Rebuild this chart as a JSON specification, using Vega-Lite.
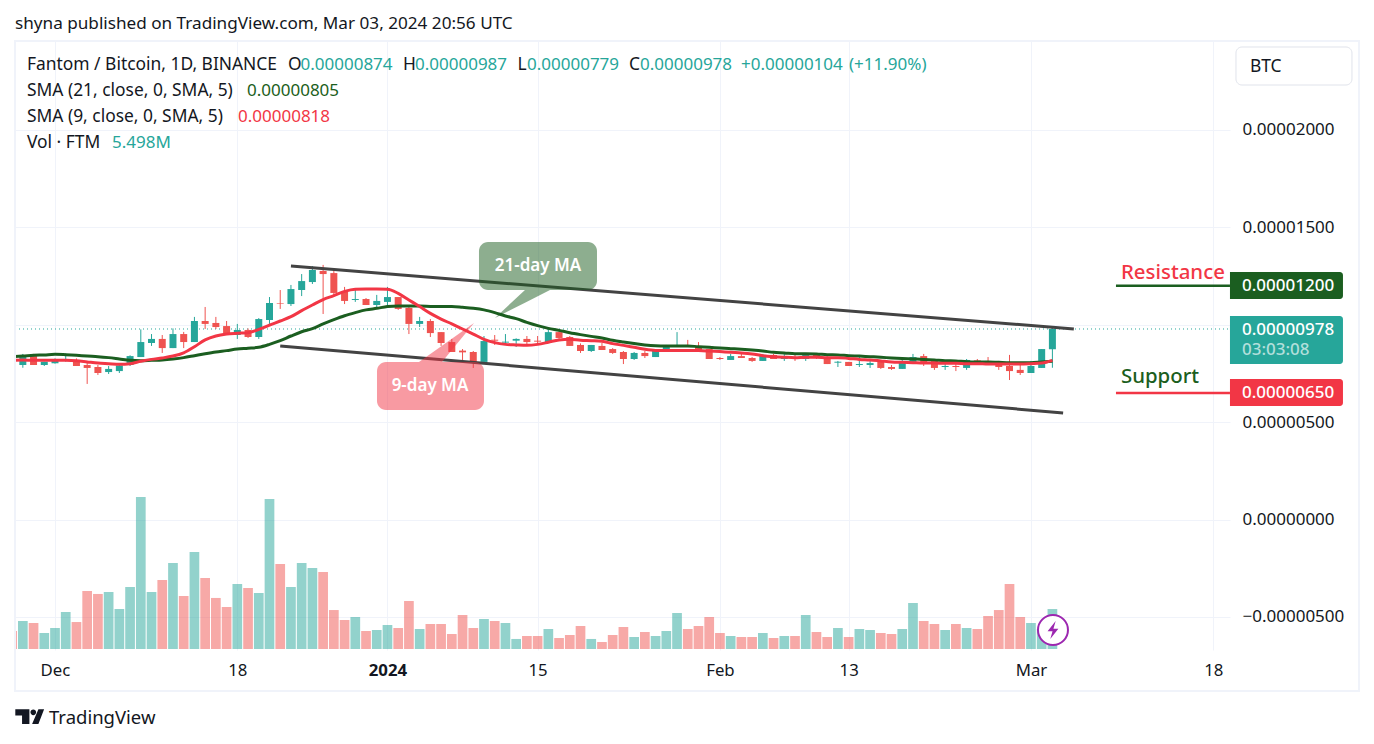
{"$schema":"https://vega.github.io/schema/vega-lite/v6.json","width":1215,"height":609,"autosize":{"type":"none"},"padding":{"left":15,"top":41,"right":144,"bottom":94},"background":"#ffffff",
"title":{"text":"shyna published on TradingView.com, Mar 03, 2024 20:56 UTC","anchor":"start","frame":"group","font":"Noto Sans","fontSize":17.15,"fontWeight":"normal","color":"#131722","offset":8},
"config":{"view":{"stroke":null},"text":{"font":"Noto Sans"}},
"datasets":{
"candles":[
{"date":"2023-11-27","open":827,"high":836,"low":785,"close":793,"vol":2.48,"ma21":836,"ma9":817,"kind":"down"},
{"date":"2023-11-28","open":793,"high":850,"low":779,"close":839,"vol":3.85,"ma21":839,"ma9":819,"kind":"up"},
{"date":"2023-11-29","open":839,"high":850,"low":793,"close":793,"vol":3.58,"ma21":843,"ma9":817,"kind":"down"},
{"date":"2023-11-30","open":793,"high":810,"low":788,"close":810,"vol":2.2,"ma21":845,"ma9":817,"kind":"up"},
{"date":"2023-12-01","open":802,"high":827,"low":800,"close":817,"vol":2.89,"ma21":848,"ma9":817,"kind":"up"},
{"date":"2023-12-02","open":821,"high":853,"low":810,"close":824,"vol":5.09,"ma21":846,"ma9":817,"kind":"up"},
{"date":"2023-12-03","open":819,"high":827,"low":788,"close":788,"vol":3.71,"ma21":843,"ma9":815,"kind":"down"},
{"date":"2023-12-04","open":793,"high":810,"low":696,"close":778,"vol":7.98,"ma21":839,"ma9":809,"kind":"down"},
{"date":"2023-12-05","open":783,"high":793,"low":742,"close":752,"vol":7.57,"ma21":836,"ma9":803,"kind":"down"},
{"date":"2023-12-06","open":757,"high":788,"low":747,"close":773,"vol":7.84,"ma21":831,"ma9":800,"kind":"up"},
{"date":"2023-12-07","open":762,"high":802,"low":752,"close":791,"vol":5.5,"ma21":824,"ma9":797,"kind":"up"},
{"date":"2023-12-08","open":793,"high":843,"low":788,"close":839,"vol":8.53,"ma21":817,"ma9":800,"kind":"up"},
{"date":"2023-12-09","open":834,"high":976,"low":834,"close":911,"vol":20.91,"ma21":815,"ma9":812,"kind":"up"},
{"date":"2023-12-10","open":906,"high":952,"low":891,"close":927,"vol":7.84,"ma21":817,"ma9":822,"kind":"up"},
{"date":"2023-12-11","open":927,"high":947,"low":855,"close":880,"vol":9.49,"ma21":819,"ma9":829,"kind":"down"},
{"date":"2023-12-12","open":880,"high":981,"low":880,"close":952,"vol":11.83,"ma21":824,"ma9":839,"kind":"up"},
{"date":"2023-12-13","open":952,"high":963,"low":880,"close":911,"vol":7.29,"ma21":831,"ma9":856,"kind":"down"},
{"date":"2023-12-14","open":911,"high":1040,"low":911,"close":1019,"vol":13.34,"ma21":841,"ma9":887,"kind":"up"},
{"date":"2023-12-15","open":1019,"high":1091,"low":978,"close":1004,"vol":9.77,"ma21":851,"ma9":922,"kind":"down"},
{"date":"2023-12-16","open":1009,"high":1040,"low":978,"close":988,"vol":7.02,"ma21":860,"ma9":942,"kind":"down"},
{"date":"2023-12-17","open":993,"high":1019,"low":947,"close":952,"vol":5.78,"ma21":867,"ma9":952,"kind":"down"},
{"date":"2023-12-18","open":947,"high":1004,"low":927,"close":973,"vol":8.94,"ma21":875,"ma9":956,"kind":"up"},
{"date":"2023-12-19","open":973,"high":981,"low":932,"close":937,"vol":8.39,"ma21":879,"ma9":959,"kind":"down"},
{"date":"2023-12-20","open":937,"high":1034,"low":927,"close":1029,"vol":7.7,"ma21":884,"ma9":976,"kind":"up"},
{"date":"2023-12-21","open":1024,"high":1142,"low":1004,"close":1111,"vol":20.63,"ma21":899,"ma9":998,"kind":"up"},
{"date":"2023-12-22","open":1111,"high":1178,"low":1081,"close":1108,"vol":11.69,"ma21":918,"ma9":1019,"kind":"down"},
{"date":"2023-12-23","open":1106,"high":1204,"low":1096,"close":1183,"vol":8.53,"ma21":942,"ma9":1041,"kind":"up"},
{"date":"2023-12-24","open":1178,"high":1260,"low":1147,"close":1224,"vol":11.83,"ma21":964,"ma9":1072,"kind":"up"},
{"date":"2023-12-25","open":1219,"high":1301,"low":1209,"close":1281,"vol":11.14,"ma21":980,"ma9":1101,"kind":"up"},
{"date":"2023-12-26","open":1276,"high":1307,"low":1055,"close":1260,"vol":10.59,"ma21":1004,"ma9":1129,"kind":"down"},
{"date":"2023-12-27","open":1265,"high":1281,"low":1153,"close":1163,"vol":5.36,"ma21":1026,"ma9":1149,"kind":"down"},
{"date":"2023-12-28","open":1168,"high":1194,"low":1106,"close":1122,"vol":3.99,"ma21":1046,"ma9":1171,"kind":"down"},
{"date":"2023-12-29","open":1127,"high":1188,"low":1117,"close":1132,"vol":4.4,"ma21":1062,"ma9":1182,"kind":"up"},
{"date":"2023-12-30","open":1132,"high":1137,"low":1101,"close":1101,"vol":2.48,"ma21":1076,"ma9":1183,"kind":"down"},
{"date":"2023-12-31","open":1101,"high":1153,"low":1086,"close":1122,"vol":2.61,"ma21":1084,"ma9":1183,"kind":"up"},
{"date":"2024-01-01","open":1117,"high":1194,"low":1101,"close":1142,"vol":3.3,"ma21":1093,"ma9":1182,"kind":"up"},
{"date":"2024-01-02","open":1142,"high":1142,"low":1076,"close":1081,"vol":2.89,"ma21":1096,"ma9":1161,"kind":"down"},
{"date":"2024-01-03","open":1086,"high":1101,"low":952,"close":1004,"vol":6.6,"ma21":1096,"ma9":1127,"kind":"down"},
{"date":"2024-01-04","open":1004,"high":1040,"low":988,"close":1019,"vol":2.75,"ma21":1096,"ma9":1093,"kind":"up"},
{"date":"2024-01-05","open":1019,"high":1029,"low":937,"close":957,"vol":3.44,"ma21":1094,"ma9":1058,"kind":"down"},
{"date":"2024-01-06","open":962,"high":962,"low":891,"close":906,"vol":3.44,"ma21":1093,"ma9":1029,"kind":"down"},
{"date":"2024-01-07","open":911,"high":927,"low":860,"close":860,"vol":2.06,"ma21":1093,"ma9":1004,"kind":"down"},
{"date":"2024-01-08","open":867,"high":875,"low":809,"close":858,"vol":4.68,"ma21":1089,"ma9":978,"kind":"down"},
{"date":"2024-01-09","open":860,"high":865,"low":778,"close":809,"vol":2.89,"ma21":1084,"ma9":952,"kind":"down"},
{"date":"2024-01-10","open":809,"high":942,"low":809,"close":916,"vol":4.13,"ma21":1076,"ma9":925,"kind":"up"},
{"date":"2024-01-11","open":923,"high":947,"low":896,"close":918,"vol":3.85,"ma21":1062,"ma9":908,"kind":"down"},
{"date":"2024-01-12","open":908,"high":952,"low":901,"close":913,"vol":3.58,"ma21":1045,"ma9":899,"kind":"up"},
{"date":"2024-01-13","open":918,"high":930,"low":886,"close":927,"vol":1.38,"ma21":1031,"ma9":896,"kind":"up"},
{"date":"2024-01-14","open":927,"high":942,"low":896,"close":911,"vol":1.79,"ma21":1012,"ma9":894,"kind":"down"},
{"date":"2024-01-15","open":918,"high":942,"low":906,"close":913,"vol":1.79,"ma21":995,"ma9":899,"kind":"down"},
{"date":"2024-01-16","open":906,"high":983,"low":906,"close":962,"vol":2.75,"ma21":981,"ma9":910,"kind":"up"},
{"date":"2024-01-17","open":962,"high":978,"low":927,"close":932,"vol":1.51,"ma21":971,"ma9":922,"kind":"down"},
{"date":"2024-01-18","open":937,"high":942,"low":891,"close":891,"vol":1.93,"ma21":959,"ma9":925,"kind":"down"},
{"date":"2024-01-19","open":896,"high":904,"low":855,"close":865,"vol":3.16,"ma21":949,"ma9":920,"kind":"down"},
{"date":"2024-01-20","open":865,"high":896,"low":860,"close":896,"vol":1.38,"ma21":940,"ma9":918,"kind":"up"},
{"date":"2024-01-21","open":891,"high":906,"low":870,"close":870,"vol":0.96,"ma21":932,"ma9":915,"kind":"down"},
{"date":"2024-01-22","open":875,"high":880,"low":850,"close":855,"vol":1.93,"ma21":920,"ma9":903,"kind":"down"},
{"date":"2024-01-23","open":860,"high":865,"low":798,"close":824,"vol":3.03,"ma21":911,"ma9":894,"kind":"down"},
{"date":"2024-01-24","open":824,"high":860,"low":819,"close":855,"vol":1.65,"ma21":903,"ma9":884,"kind":"up"},
{"date":"2024-01-25","open":855,"high":865,"low":829,"close":839,"vol":2.34,"ma21":896,"ma9":874,"kind":"down"},
{"date":"2024-01-26","open":834,"high":875,"low":834,"close":870,"vol":1.79,"ma21":892,"ma9":868,"kind":"up"},
{"date":"2024-01-27","open":865,"high":896,"low":860,"close":891,"vol":2.48,"ma21":891,"ma9":867,"kind":"up"},
{"date":"2024-01-28","open":886,"high":962,"low":886,"close":896,"vol":4.95,"ma21":891,"ma9":867,"kind":"up"},
{"date":"2024-01-29","open":896,"high":922,"low":891,"close":891,"vol":2.75,"ma21":891,"ma9":867,"kind":"down"},
{"date":"2024-01-30","open":891,"high":911,"low":865,"close":870,"vol":3.16,"ma21":887,"ma9":867,"kind":"down"},
{"date":"2024-01-31","open":875,"high":875,"low":824,"close":824,"vol":4.4,"ma21":884,"ma9":865,"kind":"down"},
{"date":"2024-02-01","open":829,"high":834,"low":819,"close":824,"vol":2.2,"ma21":880,"ma9":862,"kind":"down"},
{"date":"2024-02-02","open":819,"high":850,"low":819,"close":839,"vol":1.79,"ma21":877,"ma9":858,"kind":"up"},
{"date":"2024-02-03","open":839,"high":850,"low":829,"close":829,"vol":1.65,"ma21":874,"ma9":855,"kind":"down"},
{"date":"2024-02-04","open":829,"high":834,"low":809,"close":814,"vol":1.65,"ma21":870,"ma9":850,"kind":"down"},
{"date":"2024-02-05","open":814,"high":850,"low":814,"close":845,"vol":2.2,"ma21":865,"ma9":841,"kind":"up"},
{"date":"2024-02-06","open":845,"high":850,"low":824,"close":824,"vol":1.51,"ma21":858,"ma9":836,"kind":"down"},
{"date":"2024-02-07","open":824,"high":850,"low":814,"close":829,"vol":1.79,"ma21":855,"ma9":833,"kind":"up"},
{"date":"2024-02-08","open":834,"high":845,"low":814,"close":829,"vol":1.79,"ma21":851,"ma9":831,"kind":"down"},
{"date":"2024-02-09","open":824,"high":850,"low":814,"close":845,"vol":4.68,"ma21":851,"ma9":833,"kind":"up"},
{"date":"2024-02-10","open":845,"high":850,"low":824,"close":829,"vol":2.34,"ma21":850,"ma9":833,"kind":"down"},
{"date":"2024-02-11","open":834,"high":839,"low":798,"close":798,"vol":1.65,"ma21":846,"ma9":831,"kind":"down"},
{"date":"2024-02-12","open":805,"high":814,"low":783,"close":810,"vol":2.89,"ma21":845,"ma9":831,"kind":"up"},
{"date":"2024-02-13","open":809,"high":809,"low":788,"close":788,"vol":1.65,"ma21":841,"ma9":827,"kind":"down"},
{"date":"2024-02-14","open":793,"high":834,"low":783,"close":798,"vol":2.75,"ma21":839,"ma9":822,"kind":"up"},
{"date":"2024-02-15","open":793,"high":814,"low":778,"close":803,"vol":2.61,"ma21":836,"ma9":819,"kind":"up"},
{"date":"2024-02-16","open":809,"high":814,"low":773,"close":778,"vol":2.2,"ma21":833,"ma9":814,"kind":"down"},
{"date":"2024-02-17","open":783,"high":793,"low":768,"close":773,"vol":2.06,"ma21":829,"ma9":809,"kind":"down"},
{"date":"2024-02-18","open":773,"high":819,"low":773,"close":814,"vol":2.75,"ma21":826,"ma9":807,"kind":"up"},
{"date":"2024-02-19","open":809,"high":850,"low":809,"close":834,"vol":6.33,"ma21":824,"ma9":805,"kind":"up"},
{"date":"2024-02-20","open":839,"high":850,"low":788,"close":803,"vol":3.85,"ma21":822,"ma9":803,"kind":"down"},
{"date":"2024-02-21","open":814,"high":814,"low":768,"close":778,"vol":3.44,"ma21":819,"ma9":803,"kind":"down"},
{"date":"2024-02-22","open":783,"high":814,"low":768,"close":788,"vol":2.61,"ma21":815,"ma9":802,"kind":"up"},
{"date":"2024-02-23","open":788,"high":814,"low":762,"close":783,"vol":3.44,"ma21":814,"ma9":802,"kind":"down"},
{"date":"2024-02-24","open":778,"high":824,"low":768,"close":819,"vol":2.89,"ma21":810,"ma9":800,"kind":"up"},
{"date":"2024-02-25","open":817,"high":824,"low":798,"close":803,"vol":2.75,"ma21":809,"ma9":800,"kind":"down"},
{"date":"2024-02-26","open":814,"high":834,"low":793,"close":793,"vol":4.54,"ma21":809,"ma9":798,"kind":"down"},
{"date":"2024-02-27","open":793,"high":814,"low":768,"close":783,"vol":5.36,"ma21":807,"ma9":798,"kind":"down"},
{"date":"2024-02-28","open":788,"high":845,"low":716,"close":762,"vol":8.94,"ma21":805,"ma9":798,"kind":"down"},
{"date":"2024-02-29","open":768,"high":798,"low":742,"close":752,"vol":4.4,"ma21":805,"ma9":798,"kind":"down"},
{"date":"2024-03-01","open":752,"high":814,"low":752,"close":788,"vol":3.58,"ma21":805,"ma9":800,"kind":"up"},
{"date":"2024-03-02","open":778,"high":875,"low":778,"close":875,"vol":2.75,"ma21":809,"ma9":803,"kind":"up"},
{"date":"2024-03-03","open":874,"high":987,"low":779,"close":978,"vol":5.498,"ma21":812,"ma9":817,"kind":"up"}
],
"trends":[
{"date":"2023-12-23","date2":"2024-03-05","price":1301,"price2":978},
{"date":"2023-12-22","date2":"2024-03-04","price":891,"price2":547}
],
"callouts":[
{"date":1704804520256,"date2":1705755121648,"price":1424.5,"price2":1178.1,"kind":"ma21"},
{"date":1703982813968,"date2":1704844799976,"price":808.5,"price2":562.1,"kind":"ma9"}
],
"tails":[
{"date":1704933415360,"price":1034.4,"price2":1034.4,"kind":"ma21"},
{"date":1705175093680,"price":1178.1,"price2":1112.9,"kind":"ma21"},
{"date":1705376492280,"price":1178.1,"price2":1178.1,"kind":"ma21"},
{"date":1704321163616,"price":808.5,"price2":808.5,"kind":"ma9"},
{"date":1704506450328,"price":892.2,"price2":808.5,"kind":"ma9"},
{"date":1704764240536,"price":1008.7,"price2":1008.7,"kind":"ma9"}
],
"boxes":[
{"date":1710854534200,"date2":1711764855872,"price":1270.5,"price2":1131.9,"kind":"ma21"},
{"date":1710854534200,"date2":1711764855872,"price":1044.7,"price2":798.3,"kind":"up"},
{"date":1710854534200,"date2":1711764855872,"price":721.3,"price2":582.6,"kind":"ma9"}
],
"levels":[
{"date":1709936156584,"date2":1710854534200,"price":1200,"kind":"ma21"},
{"date":1709936156584,"date2":1710854534200,"price":650,"kind":"ma9"}
],
"legendText":[
{"date":1701163233568,"price":2333,"label":"Fantom / Bitcoin, 1D, BINANCE","kind":"ink"},
{"date":1703265834952,"price":2333,"label":"O","kind":"ink"},
{"date":1703366534252,"price":2333,"label":"0.00000874","kind":"up"},
{"date":1704192268512,"price":2333,"label":"H","kind":"ink"},
{"date":1704288939840,"price":2333,"label":"0.00000987","kind":"up"},
{"date":1705114674100,"price":2333,"label":"L","kind":"ink"},
{"date":1705191205568,"price":2333,"label":"0.00000779","kind":"up"},
{"date":1706012911856,"price":2333,"label":"C","kind":"ink"},
{"date":1706101527240,"price":2333,"label":"0.00000978","kind":"up"},
{"date":1706915177584,"price":2333,"label":"+0.00000104","kind":"up"},
{"date":1707785219536,"price":2333,"label":"(+11.90%)","kind":"up"},
{"date":1701163233568,"price":2200,"label":"SMA (21, close, 0, SMA, 5)","kind":"ink"},
{"date":1702935541248,"price":2200,"label":"0.00000805","kind":"ma21"},
{"date":1701163233568,"price":2066,"label":"SMA (9, close, 0, SMA, 5)","kind":"ink"},
{"date":1702863037752,"price":2066,"label":"0.00000818","kind":"ma9"},
{"date":1701163233568,"price":1933,"label":"Vol · FTM","kind":"ink"},
{"date":1701847988808,"price":1933,"label":"5.498M","kind":"up"},
{"date":1711015653080,"price":2323,"label":"BTC","kind":"ink"}
],
"boxText":[
{"date":1710951205528,"price":1200,"label":"0.00001200","kind":"white"},
{"date":1710951205528,"price":975,"label":"0.00000978","kind":"white"},
{"date":1710951205528,"price":870,"label":"03:03:08","kind":"mute"},
{"date":1710951205528,"price":650,"label":"0.00000650","kind":"white"}
],
"calloutText":[
{"date":1705279820952,"price":1301.3,"label":"21-day MA"},
{"date":1704409779000,"price":685.3,"label":"9-day MA"}
],
"levelText":[
{"date":1709976436304,"price":1265.4,"label":"Resistance","kind":"ma9"},
{"date":1709976436304,"price":732,"label":"Support","kind":"ma21"}
]
},
"encoding":{"x":{"field":"date","type":"temporal","title":null,"scale":{"type":"utc","padding":0,"domain":[1701066528000,1710854784000]},
"axis":{"values":[1701388800000,1702857600000,1704067200000,1705276800000,1706745600000,1707782400000,1709251200000,1710720000000],
"labelExpr":"utcdate(datum.value)==1 ? (utcmonth(datum.value)==0 ? '2024' : utcFormat(datum.value,'%b')) : utcFormat(datum.value,'%-d')",
"labelFontWeight":{"condition":{"test":"utcdate(datum.value)==1 && utcmonth(datum.value)==0","value":"bold"},"value":"normal"},
"grid":true,"gridColor":"#f0f3fa","gridWidth":1,"domain":false,"ticks":false,"labelFont":"Noto Sans","labelFontSize":16.8,"labelColor":"#131722","labelPadding":12,"labelOverlap":false,"labelBound":false,"labelFlush":false}}},
"layer":[
{"data":{"name":"candles"},"mark":{"type":"bar","size":9.7,"opacity":0.5,"clip":true},
"encoding":{"y":{"field":"vol","type":"quantitative","stack":null,"title":null,"axis":null,"scale":{"domain":[-0.1375,83.63],"nice":false,"zero":false}},
"color":{"field":"kind","type":"nominal","legend":null,"scale":{"domain":["up","down","ma21","ma9","ink","white","mute"],"range":["#26A69A","#EF5350","#1B5E20","#F23645","#131722","#FFFFFF","#B2DFDB"]}}}},
{"layer":[
{"data":{"values":[{"date":1701066528000,"date2":1710854784000,"price":978}]},"mark":{"type":"rule","stroke":"#26A69A","strokeWidth":1,"strokeDash":[1,3]},
"encoding":{"x2":{"field":"date2"},"y":{"field":"price","type":"quantitative","title":null,"scale":{"domain":[-669.9,2456.4],"nice":false,"zero":false},
"axis":{"orient":"right","values":[2000,1500,1000,500,0,-500],"labelExpr":"datum.value==1000 ? '' : format(datum.value/100000000,'.8f')","grid":true,"gridColor":"#f0f3fa","gridWidth":1,"domain":false,"ticks":false,"labelFont":"Noto Sans","labelFontSize":17,"labelColor":"#131722","labelPadding":12,"labelBound":false,"labelOverlap":false,"labelFlush":false}}}},
{"data":{"name":"candles"},"mark":{"type":"rule","strokeWidth":1,"clip":true},
"encoding":{"y":{"field":"low","type":"quantitative","title":null,"scale":{"domain":[-669.9,2456.4],"nice":false,"zero":false}},"y2":{"field":"high"},
"color":{"field":"kind","type":"nominal","legend":null,"scale":{"domain":["up","down","ma21","ma9","ink","white","mute"],"range":["#26A69A","#EF5350","#1B5E20","#F23645","#131722","#FFFFFF","#B2DFDB"]}}}},
{"data":{"name":"candles"},"mark":{"type":"bar","size":7,"clip":true},
"encoding":{"y":{"field":"open","type":"quantitative","stack":null,"title":null,"scale":{"domain":[-669.9,2456.4],"nice":false,"zero":false}},"y2":{"field":"close"},
"color":{"field":"kind","type":"nominal","legend":null,"scale":{"domain":["up","down","ma21","ma9","ink","white","mute"],"range":["#26A69A","#EF5350","#1B5E20","#F23645","#131722","#FFFFFF","#B2DFDB"]}}}},
{"data":{"name":"candles"},"mark":{"type":"line","stroke":"#1B5E20","strokeWidth":3,"interpolate":"monotone","clip":true},
"encoding":{"y":{"field":"ma21","type":"quantitative","title":null,"scale":{"domain":[-669.9,2456.4],"nice":false,"zero":false}}}},
{"data":{"name":"candles"},"mark":{"type":"line","stroke":"#F23645","strokeWidth":3,"interpolate":"monotone","clip":true},
"encoding":{"y":{"field":"ma9","type":"quantitative","title":null,"scale":{"domain":[-669.9,2456.4],"nice":false,"zero":false}}}},
{"data":{"name":"trends"},"mark":{"type":"rule","stroke":"#434343","strokeWidth":3},
"encoding":{"x2":{"field":"date2"},"y":{"field":"price","type":"quantitative","title":null,"scale":{"domain":[-669.9,2456.4],"nice":false,"zero":false}},"y2":{"field":"price2"}}},
{"data":{"name":"tails"},"mark":{"type":"area","opacity":0.5},
"encoding":{"y":{"field":"price","type":"quantitative","stack":null,"title":null,"scale":{"domain":[-669.9,2456.4],"nice":false,"zero":false}},"y2":{"field":"price2"},
"color":{"field":"kind","type":"nominal","legend":null,"scale":{"domain":["up","down","ma21","ma9","ink","white","mute"],"range":["#26A69A","#EF5350","#1B5E20","#F23645","#131722","#FFFFFF","#B2DFDB"]}}}},
{"data":{"name":"callouts"},"mark":{"type":"rect","opacity":0.5,"cornerRadius":9},
"encoding":{"x2":{"field":"date2"},"y":{"field":"price","type":"quantitative","title":null,"scale":{"domain":[-669.9,2456.4],"nice":false,"zero":false}},"y2":{"field":"price2"},
"color":{"field":"kind","type":"nominal","legend":null,"scale":{"domain":["up","down","ma21","ma9","ink","white","mute"],"range":["#26A69A","#EF5350","#1B5E20","#F23645","#131722","#FFFFFF","#B2DFDB"]}}}},
{"data":{"name":"calloutText"},"mark":{"type":"text","align":"center","baseline":"middle","fontSize":17,"fontWeight":600,"fill":"#ffffff"},
"encoding":{"y":{"field":"price","type":"quantitative","title":null,"scale":{"domain":[-669.9,2456.4],"nice":false,"zero":false}},"text":{"field":"label"}}},
{"data":{"name":"levels"},"mark":{"type":"rule","strokeWidth":2.5},
"encoding":{"x2":{"field":"date2"},"y":{"field":"price","type":"quantitative","title":null,"scale":{"domain":[-669.9,2456.4],"nice":false,"zero":false}},
"color":{"field":"kind","type":"nominal","legend":null,"scale":{"domain":["up","down","ma21","ma9","ink","white","mute"],"range":["#26A69A","#EF5350","#1B5E20","#F23645","#131722","#FFFFFF","#B2DFDB"]}}}},
{"data":{"values":[{"date":1710902869864,"date2":1711837359368,"price":2425.6,"price2":2230.5}]},"mark":{"type":"rect","fill":"#ffffff","stroke":"#e0e3eb","strokeWidth":1,"cornerRadius":6},
"encoding":{"x2":{"field":"date2"},"y":{"field":"price","type":"quantitative","title":null,"scale":{"domain":[-669.9,2456.4],"nice":false,"zero":false}},"y2":{"field":"price2"}}},
{"data":{"name":"boxes"},"mark":{"type":"rect","cornerRadiusTopRight":3,"cornerRadiusBottomRight":3},
"encoding":{"x2":{"field":"date2"},"y":{"field":"price","type":"quantitative","title":null,"scale":{"domain":[-669.9,2456.4],"nice":false,"zero":false}},"y2":{"field":"price2"},
"color":{"field":"kind","type":"nominal","legend":null,"scale":{"domain":["up","down","ma21","ma9","ink","white","mute"],"range":["#26A69A","#EF5350","#1B5E20","#F23645","#131722","#FFFFFF","#B2DFDB"]}}}},
{"data":{"name":"boxText"},"mark":{"type":"text","align":"left","baseline":"middle","fontSize":17,"fontWeight":500},
"encoding":{"y":{"field":"price","type":"quantitative","title":null,"scale":{"domain":[-669.9,2456.4],"nice":false,"zero":false}},"text":{"field":"label"},
"color":{"field":"kind","type":"nominal","legend":null,"scale":{"domain":["up","down","ma21","ma9","ink","white","mute"],"range":["#26A69A","#EF5350","#1B5E20","#F23645","#131722","#FFFFFF","#B2DFDB"]}}}},
{"data":{"name":"legendText"},"transform":[{"filter":"datum.kind!='ink'"}],"mark":{"type":"text","align":"left","baseline":"middle","fontSize":17},
"encoding":{"y":{"field":"price","type":"quantitative","title":null,"scale":{"domain":[-669.9,2456.4],"nice":false,"zero":false}},"text":{"field":"label"},
"color":{"field":"kind","type":"nominal","legend":null,"scale":{"domain":["up","down","ma21","ma9","ink","white","mute"],"range":["#26A69A","#EF5350","#1B5E20","#F23645","#131722","#FFFFFF","#B2DFDB"]}}}},
{"data":{"name":"legendText"},"transform":[{"filter":"datum.kind=='ink'"}],"mark":{"type":"text","align":"left","baseline":"middle","fontSize":17.4},
"encoding":{"y":{"field":"price","type":"quantitative","title":null,"scale":{"domain":[-669.9,2456.4],"nice":false,"zero":false}},"text":{"field":"label"},
"color":{"field":"kind","type":"nominal","legend":null,"scale":{"domain":["up","down","ma21","ma9","ink","white","mute"],"range":["#26A69A","#EF5350","#1B5E20","#F23645","#131722","#FFFFFF","#B2DFDB"]}}}},
{"data":{"name":"levelText"},"mark":{"type":"text","align":"left","baseline":"middle","fontSize":20.4,"fontWeight":500},
"encoding":{"y":{"field":"price","type":"quantitative","title":null,"scale":{"domain":[-669.9,2456.4],"nice":false,"zero":false}},"text":{"field":"label"},
"color":{"field":"kind","type":"nominal","legend":null,"scale":{"domain":["up","down","ma21","ma9","ink","white","mute"],"range":["#26A69A","#EF5350","#1B5E20","#F23645","#131722","#FFFFFF","#B2DFDB"]}}}},
{"data":{"values":[{"date":1709428632112,"price":-567.2}]},"mark":{"type":"point","shape":"circle","size":900,"filled":true,"fill":"#ffffff","fillOpacity":1,"stroke":"#9C27B0","strokeWidth":2,"opacity":1},
"encoding":{"y":{"field":"price","type":"quantitative","title":null,"scale":{"domain":[-669.9,2456.4],"nice":false,"zero":false}}}},
{"data":{"values":[{"date":1709428632112,"price":-567.2}]},"mark":{"type":"point","shape":"M0.3,-1 L-0.6,0.15 L-0.05,0.15 L-0.3,1 L0.6,-0.15 L0.05,-0.15 Z","size":324,"filled":true,"fill":"#9C27B0","stroke":null,"opacity":1},
"encoding":{"y":{"field":"price","type":"quantitative","title":null,"scale":{"domain":[-669.9,2456.4],"nice":false,"zero":false}}}},
{"data":{"values":[{"date":1701066562240,"date2":1711893750976,"price":2456.4,"price2":-880.4}]},"mark":{"type":"rect","fill":null,"fillOpacity":0,"stroke":"#f0f3fa","strokeWidth":2},
"encoding":{"x2":{"field":"date2"},"y":{"field":"price","type":"quantitative","title":null,"scale":{"domain":[-669.9,2456.4],"nice":false,"zero":false}},"y2":{"field":"price2"}}},
{"data":{"values":[{"date":1701340464336,"price":-1019,"label":"TradingView"}]},"mark":{"type":"text","align":"left","baseline":"middle","fontSize":18.5,"fill":"#131722"},
"encoding":{"y":{"field":"price","type":"quantitative","title":null,"scale":{"domain":[-669.9,2456.4],"nice":false,"zero":false}},"text":{"field":"label"}}},
{"data":{"values":[{"date":1701185000000,"price":-1012}]},"mark":{"type":"point","shape":"M-0.96,-0.49 L-0.02,-0.49 L-0.02,0.49 L-0.51,0.49 L-0.51,-0.07 L-0.96,-0.07 Z M0.05,-0.29 a0.19,0.19 0 1,0 0.38,0 a0.19,0.19 0 1,0 -0.38,0 Z M0.58,-0.49 L0.96,-0.49 L0.58,0.49 L0.16,0.49 Z","size":900,"filled":true,"fill":"#131722","stroke":null,"opacity":1},
"encoding":{"y":{"field":"price","type":"quantitative","title":null,"scale":{"domain":[-669.9,2456.4],"nice":false,"zero":false}}}}
]}
],
"resolve":{"scale":{"y":"independent"}}
}
